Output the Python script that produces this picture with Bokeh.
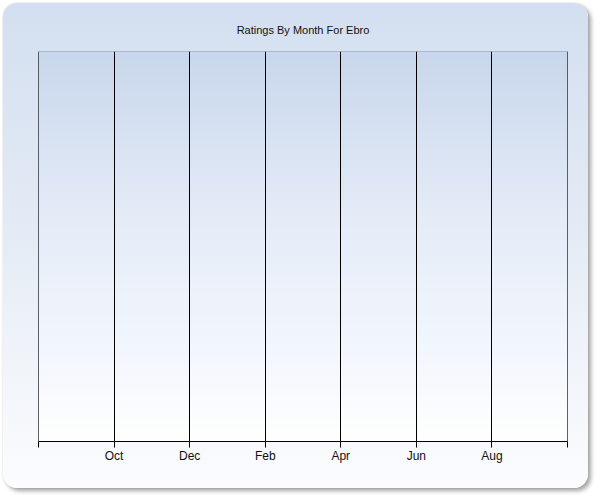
import numpy as np
from bokeh.plotting import figure
from bokeh.models import FixedTicker, Range1d, Span
from bokeh.embed import file_html
from bokeh.resources import INLINE

# ---- data ----
title_text = "Ratings By Month For Ebro"
tick_positions = [0, 1, 2, 3, 4, 5, 6, 7]
tick_labels = ["", "Oct", "Dec", "Feb", "Apr", "Jun", "Aug", ""]
ratings_x = []   # no ratings shown in the reference
ratings_y = []

p = figure(width=585, height=485, output_backend="svg", toolbar_location=None,
           x_range=Range1d(tick_positions[0], tick_positions[-1]),
           y_range=Range1d(0, 1), y_axis_location=None,
           min_border_left=35, min_border_right=21, min_border_top=48, min_border_bottom=47)
p.margin = (3, 0, 0, 3)
p.styles = {
    "background": "linear-gradient(to bottom, #d3dff0 0%, #e3eaf5 44%, #eff3f9 70%, #fbfcfe 100%)",
    "border-radius": "14px",
    "box-shadow": "3px 3px 4px rgba(0,0,0,0.35), 0 0 2px rgba(0,0,0,0.15)",
}
p.border_fill_color = None
p.background_fill_color = None
p.outline_line_color = "#a3afc2"

# plot-area vertical gradient (background decoration)
stops_t = np.array([0.0, 0.42, 0.75, 1.0])  # from top
stops_c = np.array([[201, 215, 236], [229, 236, 248], [242, 246, 253], [255, 255, 255]])
n = 200
t = np.linspace(1.0, 0.0, n)  # row 0 = bottom
cols = np.stack([np.interp(t, stops_t, stops_c[:, k]) for k in range(3)], axis=1).astype(np.uint32)
img = (255 << 24) | (cols[:, 2] << 16) | (cols[:, 1] << 8) | cols[:, 0]
img = img.reshape(n, 1).astype(np.uint32)
p.image_rgba(image=[img], x=p.x_range.start, y=p.y_range.start,
             dw=p.x_range.end - p.x_range.start, dh=p.y_range.end - p.y_range.start,
             level="image")

p.scatter(ratings_x, ratings_y, size=6, color="#1f3f8f")

p.title.text = title_text
p.title.align = "center"
p.title.text_font = "Liberation Sans"
p.title.text_font_size = "11px"
p.title.text_font_style = "normal"
p.title.text_color = "#111111"
p.title.standoff = 32

ax = p.xaxis[0]
ax.ticker = FixedTicker(ticks=tick_positions)
ax.major_label_overrides = {tp: lab for tp, lab in zip(tick_positions, tick_labels)}
ax.minor_tick_line_color = None
ax.axis_line_color = "black"
ax.major_tick_line_color = "black"
ax.major_tick_out = 6
ax.major_tick_in = 0
ax.major_label_standoff = 1
ax.major_label_text_font = "Liberation Sans"
ax.major_label_text_font_size = "12px"
ax.major_label_text_color = "#111111"

p.xgrid.ticker = FixedTicker(ticks=tick_positions)
p.xgrid.grid_line_color = "black"
p.xgrid.grid_line_width = 1
p.xgrid.level = "underlay"
p.ygrid.grid_line_color = None

# edge grid lines (Bokeh's grid skips the range ends)
for loc in (tick_positions[0], tick_positions[-1]):
    p.add_layout(Span(location=loc, dimension="height", line_color="black", line_width=1))

open("out.html", "w").write(file_html(p, INLINE))
